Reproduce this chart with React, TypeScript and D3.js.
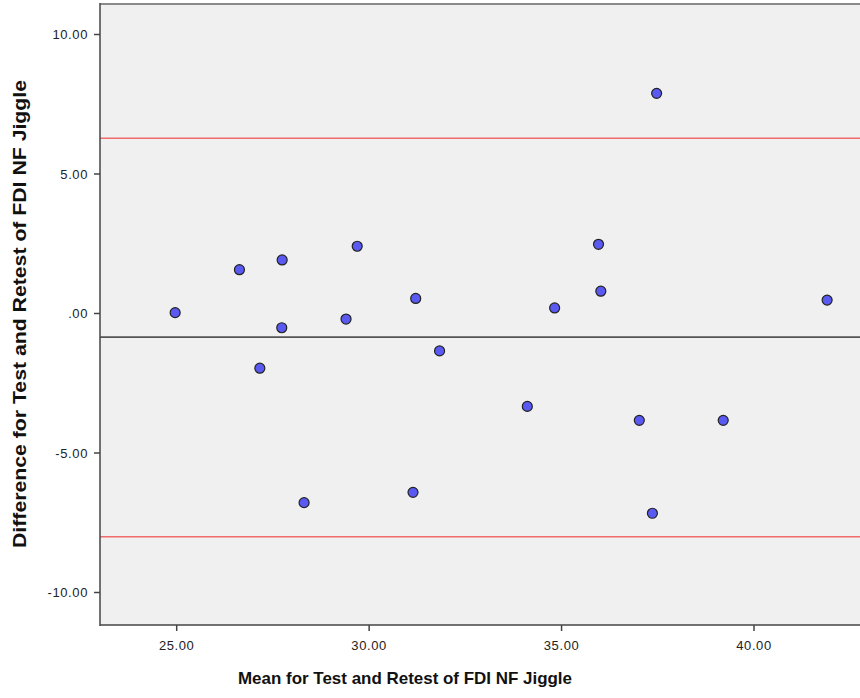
import React from "react";
import * as d3 from "d3";

const meanValues = [24.96, 26.63, 27.74, 27.73, 27.16, 28.31, 29.69, 29.4, 31.21, 31.14, 31.83, 34.11, 34.82, 35.96, 36.02, 37.47, 37.02, 37.36, 39.2, 41.9];
const diffValues = [0.03, 1.57, 1.92, -0.51, -1.96, -6.78, 2.41, -0.2, 0.54, -6.41, -1.34, -3.33, 0.2, 2.48, 0.8, 7.89, -3.83, -7.16, -3.83, 0.48];
const meanDiff = -0.85;
const upperLimit = 6.28;
const lowerLimit = -8.0;
const xTicks = [25, 30, 35, 40];
const yTicks = [10, 5, 0, -5, -10];

const W = 860;
const H = 698;
const left = 100;
const right = 860;
const top = 4;
const bottom = 625;

const fmt = (v: number) => {
  const s = v.toFixed(2);
  if (s === "0.00") return ".00";
  return s;
};

export default function App() {
  const x = d3.scaleLinear().domain([25, 40]).range([176.7, 754]);
  const y = d3.scaleLinear().domain([5, -10]).range([174, 592.5]);
  const font = "'Liberation Sans', Arial, sans-serif";
  return (
    <svg width={W} height={H} style={{ position: "fixed", left: 0, top: 0, background: "#fff" }} fontFamily={font}>
      <rect x={left} y={top} width={right - left} height={bottom - top} fill="#f0f0f0" />
      <line x1={left} x2={right} y1={top} y2={top} stroke="#8a8a8a" strokeWidth={2} />
      <line x1={left} x2={right} y1={y(upperLimit)} y2={y(upperLimit)} stroke="#f26a6a" strokeWidth={1.5} />
      <line x1={left} x2={right} y1={y(lowerLimit)} y2={y(lowerLimit)} stroke="#f26a6a" strokeWidth={1.5} />
      <line x1={left} x2={right} y1={y(meanDiff)} y2={y(meanDiff)} stroke="#555" strokeWidth={1.8} />
      {meanValues.map((m, i) => (
        <circle key={i} cx={x(m)} cy={y(diffValues[i])} r={5} fill="#5a5af2" stroke="#222" strokeWidth={1.2} />
      ))}
      <line x1={left} x2={left} y1={top - 1} y2={bottom + 1} stroke="#444" strokeWidth={1.5} />
      <line x1={left} x2={right} y1={bottom} y2={bottom} stroke="#444" strokeWidth={1.5} />
      {yTicks.map((t) => (
        <g key={t}>
          <line x1={left - 6} x2={left} y1={y(t)} y2={y(t)} stroke="#444" strokeWidth={1.5} />
          <text x={left - 12} y={y(t)} dy="0.36em" textAnchor="end" fontSize={13} letterSpacing={0.6} fill="#222">{fmt(t)}</text>
        </g>
      ))}
      {xTicks.map((t) => (
        <g key={t}>
          <line x1={x(t)} x2={x(t)} y1={bottom} y2={bottom + 6} stroke="#444" strokeWidth={1.5} />
          <text x={x(t)} y={bottom + 25} textAnchor="middle" fontSize={13} letterSpacing={0.6} fill="#222">{fmt(t)}</text>
        </g>
      ))}
      <text x={405} y={684} textAnchor="middle" fontSize={17} fontWeight="bold" fill="#111" textLength={334} lengthAdjust="spacingAndGlyphs">Mean for Test and Retest of FDI NF Jiggle</text>
      <text transform="translate(26,314) rotate(-90)" textAnchor="middle" fontSize={18} fontWeight="bold" fill="#111" textLength={468} lengthAdjust="spacingAndGlyphs">Difference for Test and Retest of FDI NF Jiggle</text>
    </svg>
  );
}
